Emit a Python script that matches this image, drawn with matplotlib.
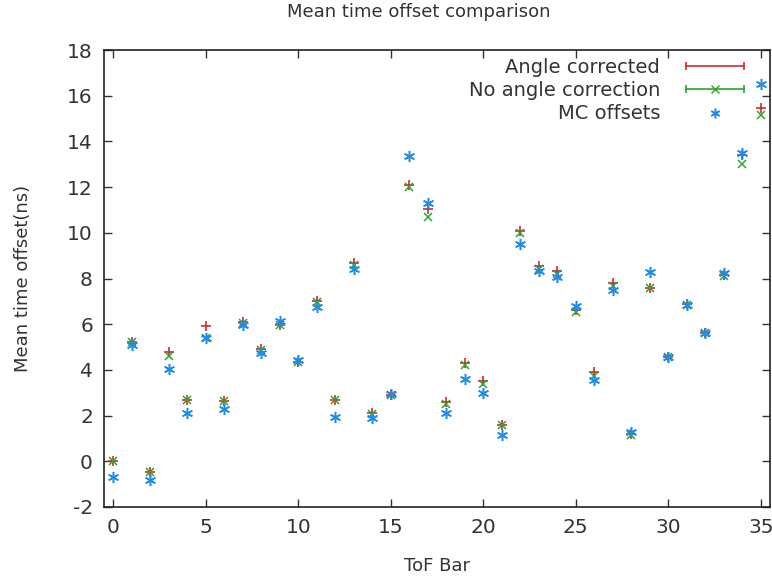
import matplotlib
matplotlib.use("Agg")
import matplotlib.pyplot as plt
from matplotlib.lines import Line2D
from matplotlib.legend_handler import HandlerBase

plt.rcParams["axes.unicode_minus"] = False

bars = list(range(36))

angle_corrected = [0.0, 5.2, -0.45, 4.8, 2.7, 5.9, 2.65, 6.1, 4.9, 5.95,
                   4.35, 7.0, 2.7, 8.7, 2.1, 2.9, 12.1, 11.05, 2.6, 4.3,
                   3.5, 1.6, 10.1, 8.55, 8.35, 6.6, 3.9, 7.8, 1.2, 7.6,
                   4.55, 6.9, 5.6, 8.15, 13.4, 15.45]
no_correction = [0.0, 5.2, -0.45, 4.6, 2.7, 5.4, 2.65, 6.05, 4.85, 5.95,
                 4.35, 6.95, 2.7, 8.6, 2.05, 2.9, 12.0, 10.7, 2.5, 4.2,
                 3.4, 1.6, 10.0, 8.4, 8.2, 6.55, 3.75, 7.65, 1.15, 7.6,
                 4.55, 6.85, 5.6, 8.1, 13.0, 15.15]
mc_offsets = [-0.7, 5.1, -0.8, 4.05, 2.1, 5.4, 2.3, 5.95, 4.75, 6.15,
              4.45, 6.75, 1.95, 8.4, 1.9, 2.95, 13.35, 11.3, 2.1, 3.6,
              3.0, 1.15, 9.5, 8.35, 8.05, 6.8, 3.55, 7.5, 1.3, 8.3,
              4.55, 6.85, 5.6, 8.25, 13.5, 16.5]

red = "#d42a2a"
green = "#2ca52c"
blue = "#1f8ce6"
txt = "#333333"


class ErrBarHandler(HandlerBase):
    # gnuplot style key sample: horizontal line with end caps and the point in the middle
    def __init__(self, marker):
        super().__init__()
        self.marker = marker

    def create_artists(self, legend, orig_handle, xdescent, ydescent,
                       width, height, fontsize, trans):
        c = orig_handle.get_color()
        y = height / 2 - ydescent
        x0, x1 = -xdescent, width - xdescent
        line = Line2D([x0, x1], [y, y], color=c, lw=1.2, transform=trans)
        caps = Line2D([x0, x1], [y, y], color=c, lw=0, marker="|",
                      markersize=6, markeredgewidth=1.2, transform=trans)
        pt = Line2D([(x0 + x1) / 2], [y], color=c, lw=0, marker=self.marker,
                    markersize=6, markeredgewidth=1.0, transform=trans)
        return [line, caps, pt]


fig = plt.figure(figsize=(7.72, 5.79), dpi=100)
ax = fig.add_axes([104 / 772, 1 - 507 / 579, 666 / 772, 457 / 579])

ax.plot(bars, angle_corrected, ls="none", marker="+", ms=7, mew=1.2, color=red)
ax.plot(bars, no_correction, ls="none", marker="x", ms=5.5, mew=1.1, color=green)
ax.plot(bars, mc_offsets, ls="none", marker=(6, 2, 0), ms=8, mew=1.1, color=blue)

ax.set_xlim(-0.5, 35.5)
ax.set_ylim(-2, 18)
ax.set_xticks(range(0, 36, 5))
ax.set_yticks(range(-2, 19, 2))
ax.tick_params(direction="in", length=6, width=1, top=True, right=True,
               labelsize=14.5, colors=txt, pad=8)
for s in ax.spines.values():
    s.set_linewidth(1.2)
    s.set_color("#222222")

ax.set_xlabel("ToF Bar", fontsize=13, color=txt, labelpad=14)
ax.set_ylabel("Mean time offset(ns)", fontsize=13, color=txt, labelpad=25)
fig.text(419 / 772, 1 - 12 / 579, "Mean time offset comparison", ha="center",
         va="center", fontsize=13, color=txt)

h1 = Line2D([], [], color=red)
h2 = Line2D([], [], color=green)
h3 = Line2D([], [], ls="none", marker=(6, 2, 0), ms=7, mew=1.1, color=blue)
ax.legend([h1, h2, h3], ["Angle corrected", "No angle correction", "MC offsets"],
          handler_map={h1: ErrBarHandler("none"), h2: ErrBarHandler("x")},
          loc="upper right", bbox_to_anchor=(0.987, 1.021), frameon=False,
          markerfirst=False, fontsize=14, handlelength=3.0, handletextpad=1.3,
          labelspacing=0.22, labelcolor=txt)

fig.savefig("out.png", dpi=100)
